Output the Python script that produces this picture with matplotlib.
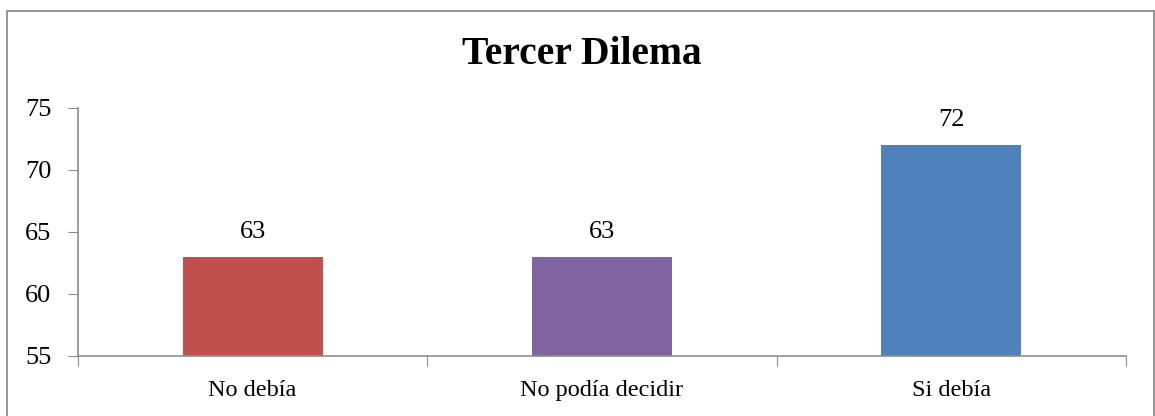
import matplotlib
matplotlib.use('Agg')
import matplotlib.pyplot as plt
from matplotlib.patches import Rectangle

categories = ['No debía', 'No podía decidir', 'Si debía']
values = [63, 63, 72]
colors = ['#C0504D', '#8064A2', '#4F81BD']
yticks = [55, 60, 65, 70, 75]

plt.rcParams['font.family'] = ['Liberation Serif', 'DejaVu Serif']

W, H = 1155, 416
fig = plt.figure(figsize=(W / 100, H / 100), dpi=100)

# outer chart border (bottom runs off the image)
fig.patches.append(Rectangle((7 / W, -0.05), (1154 - 7) / W, (H - 11) / H + 0.05,
                             transform=fig.transFigure, fill=False,
                             edgecolor='#8c8c8c', linewidth=1.3))

ax = fig.add_axes([78 / W, 1 - 356 / H, (1126 - 78) / W, (356 - 108) / H])
x = list(range(len(categories)))
ax.bar(x, values, width=0.4, color=colors, bottom=0)
ax.set_ylim(55, 75)
ax.set_xlim(-0.5, 2.5)
ax.set_yticks(yticks)
ax.tick_params(axis='y', labelsize=19, length=7, color='#8c8c8c', pad=12)

# category boundary ticks, labels centered under bars
ax.set_xticks([-0.5, 0.5, 1.5, 2.5])
ax.set_xticklabels([])
ax.set_xticks(x, minor=True)
ax.set_xticklabels(categories, minor=True)
ax.tick_params(axis='x', which='major', length=7, color='#8c8c8c')
ax.tick_params(axis='x', which='minor', length=0, labelsize=17.5, pad=17)

for s in ['top', 'right']:
    ax.spines[s].set_visible(False)
for s in ['left', 'bottom']:
    ax.spines[s].set_color('#8c8c8c')
    ax.spines[s].set_linewidth(1.2)

for xi, v in zip(x, values):
    ax.annotate(str(v), (xi, v), xytext=(0, 10), textcoords='offset points',
                ha='center', va='bottom', fontsize=19)

fig.text(582 / W, 1 - 55 / H, 'Tercer Dilema', ha='center', va='center',
         fontsize=28.5, fontweight='bold')

fig.savefig('out.png', dpi=100)
